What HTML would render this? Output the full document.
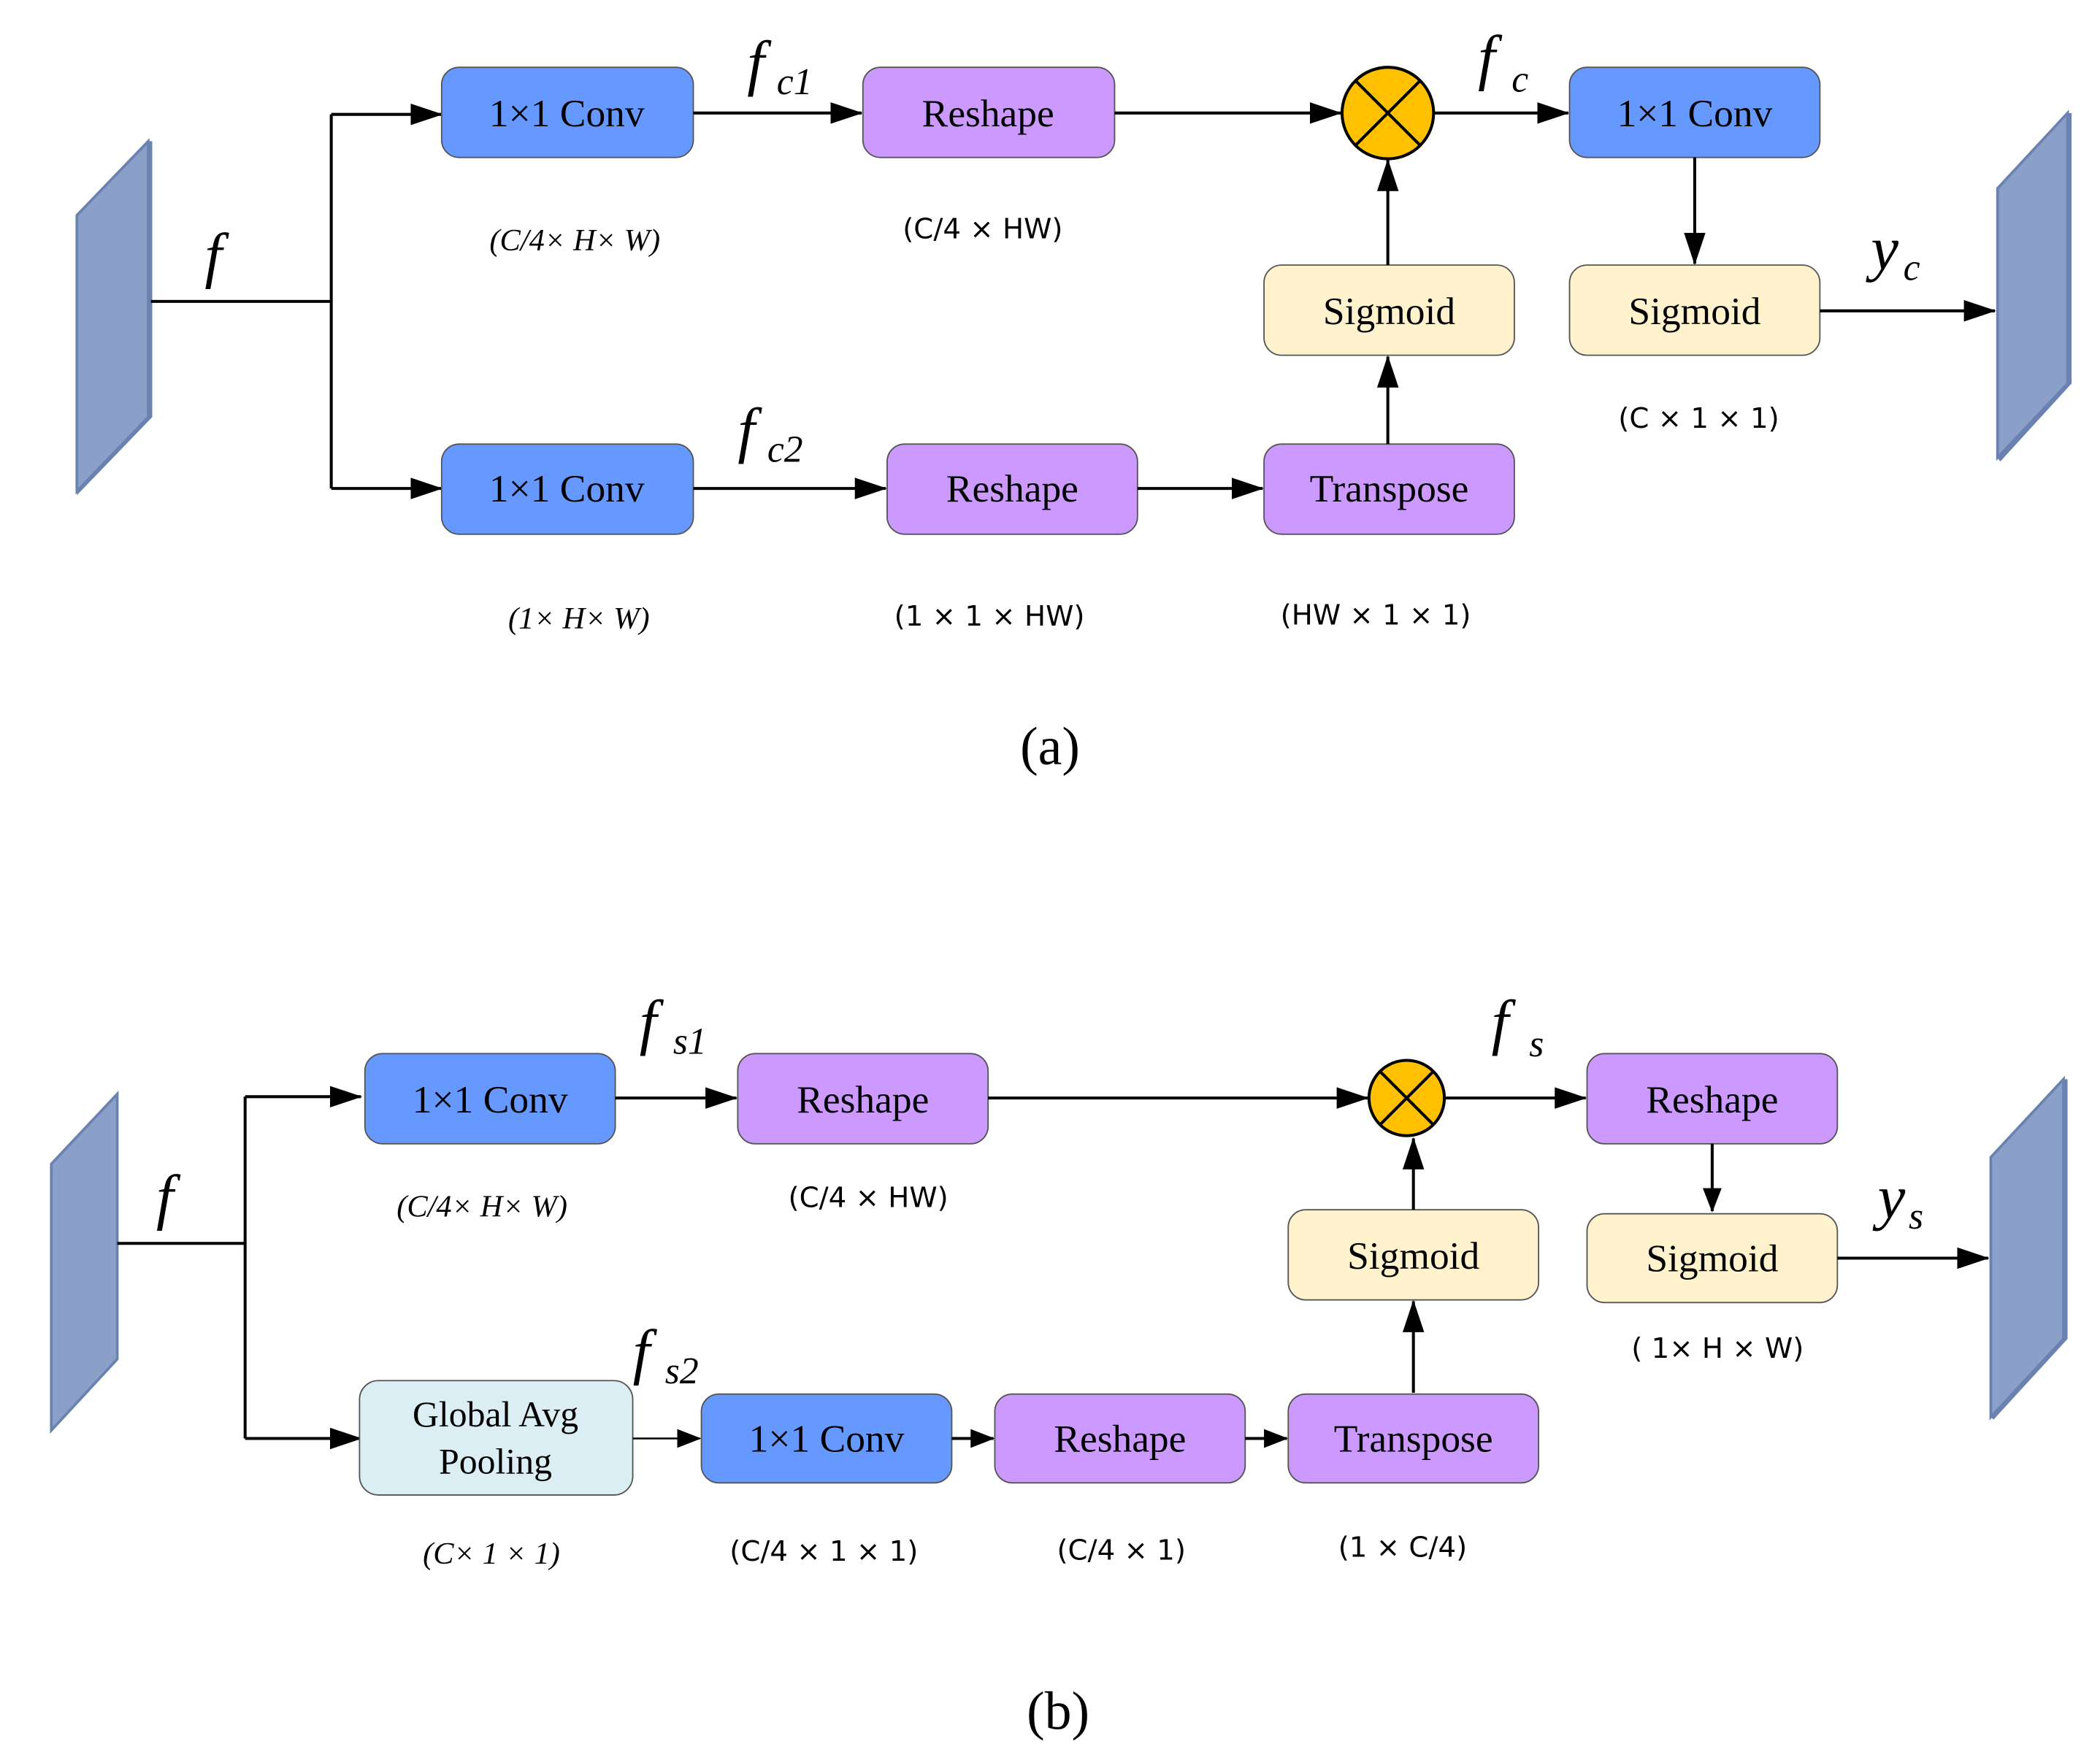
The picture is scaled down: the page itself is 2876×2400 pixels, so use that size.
<!DOCTYPE html>
<html><head><meta charset="utf-8"><style>html,body{margin:0;padding:0;background:#fff}svg{display:block}</style></head>
<body>
<svg width="2876" height="2400" viewBox="0 0 1560 1302" xmlns="http://www.w3.org/2000/svg">
<defs>
<marker id="ar" markerUnits="userSpaceOnUse" markerWidth="24" markerHeight="16" refX="23" refY="8" orient="auto"><path d="M0,0 L24,8 L0,16 Z" fill="#000"/></marker>
<marker id="as" markerUnits="userSpaceOnUse" markerWidth="18" markerHeight="14" refX="17" refY="7" orient="auto"><path d="M0,0 L18,7 L0,14 Z" fill="#000"/></marker>
</defs>
<style>
.bx{stroke:#555;stroke-width:1}
.t{font-family:"Liberation Serif",serif;font-size:29px;text-anchor:middle;dominant-baseline:central}
.d{font-family:"Liberation Serif",serif;font-size:23px;font-style:italic;text-anchor:middle}
.m{font-family:"DejaVu Sans",sans-serif;font-size:21px;text-anchor:middle}
.v{font-family:"Liberation Serif",serif;font-style:italic;font-size:46px}
.s{font-family:"Liberation Serif",serif;font-style:italic;font-size:28px}
.l{stroke:#000;stroke-width:2.2;fill:none}
</style>
<!-- (a) -->
<polygon points="57,365 57,160 110,105 110,310" fill="#8aa0c8" stroke="#6a82b0" stroke-width="2"/>
<polygon points="110,105 113,105 113,310 57,368 57,365 110,310" fill="#6a82b0"/>
<path class="l" d="M112,224 H246 M246,85 V363"/>
<path class="l" d="M246,85 H328" marker-end="url(#ar)"/>
<path class="l" d="M246,363 H328" marker-end="url(#ar)"/>
<text class="v" x="152" y="205">f</text>
<rect class="bx" x="328" y="50" width="187" height="67" rx="13" fill="#6699ff"/><text class="t" x="421" y="84">1×1 Conv</text>
<path class="l" d="M515,84 H640" marker-end="url(#ar)"/>
<text class="v" x="555" y="62">f</text><text class="s" x="577" y="70">c1</text>
<rect class="bx" x="641" y="50" width="187" height="67" rx="13" fill="#cc99ff"/><text class="t" x="734" y="84">Reshape</text>
<path class="l" d="M828,84 H996" marker-end="url(#ar)"/>
<circle cx="1031" cy="84" r="34" fill="#ffc000" stroke="#000" stroke-width="2.2"/>
<path class="l" d="M1007,60 L1055,108 M1055,60 L1007,108"/>
<path class="l" d="M1065,84 H1165" marker-end="url(#ar)"/>
<text class="v" x="1098" y="58">f</text><text class="s" x="1123" y="68">c</text>
<rect class="bx" x="1166" y="50" width="186" height="67" rx="13" fill="#6699ff"/><text class="t" x="1259" y="84">1×1 Conv</text>
<path class="l" d="M1259,117 V196" marker-end="url(#ar)"/>
<rect class="bx" x="1166" y="197" width="186" height="67" rx="13" fill="#fff2cc"/><text class="t" x="1259" y="231">Sigmoid</text>
<path class="l" d="M1352,231 H1482" marker-end="url(#ar)"/>
<text class="v" x="1390" y="200">y</text><text class="s" x="1414" y="208">c</text>
<polygon points="1484,340 1484,140 1536,84 1536,285" fill="#8aa0c8" stroke="#6a82b0" stroke-width="2"/>
<polygon points="1536,84 1539,84 1539,285 1486,343 1484,340 1536,285" fill="#6a82b0"/>
<rect class="bx" x="328" y="330" width="187" height="67" rx="13" fill="#6699ff"/><text class="t" x="421" y="363">1×1 Conv</text>
<path class="l" d="M515,363 H658" marker-end="url(#ar)"/>
<text class="v" x="548" y="335">f</text><text class="s" x="570" y="343">c2</text>
<rect class="bx" x="659" y="330" width="186" height="67" rx="13" fill="#cc99ff"/><text class="t" x="752" y="363">Reshape</text>
<path class="l" d="M845,363 H938" marker-end="url(#ar)"/>
<rect class="bx" x="939" y="330" width="186" height="67" rx="13" fill="#cc99ff"/><text class="t" x="1032" y="363">Transpose</text>
<path class="l" d="M1031,330 V265" marker-end="url(#ar)"/>
<rect class="bx" x="939" y="197" width="186" height="67" rx="13" fill="#fff2cc"/><text class="t" x="1032" y="231">Sigmoid</text>
<path class="l" d="M1031,197 V119" marker-end="url(#ar)"/>
<text class="d" x="427" y="186">(C/4× H× W)</text>
<text class="m" x="730" y="177">(C/4 × HW)</text>
<text class="m" x="1262" y="318">(C × 1 × 1)</text>
<text class="d" x="430" y="467">(1× H× W)</text>
<text class="m" x="735" y="465">(1 × 1 × HW)</text>
<text class="m" x="1022" y="464">(HW × 1 × 1)</text>
<text x="780" y="568" font-family="Liberation Serif,serif" font-size="40" text-anchor="middle">(a)</text>
<!-- (b) -->
<polygon points="38,1063 38,865 87,813 87,1010" fill="#8aa0c8" stroke="#6a82b0" stroke-width="2"/>
<path class="l" d="M87,924 H182 M182,815 V1069"/>
<path class="l" d="M182,815 H268" marker-end="url(#ar)"/>
<path class="l" d="M182,1069 H268" marker-end="url(#ar)"/>
<text class="v" x="116" y="905">f</text>
<rect class="bx" x="271" y="783" width="186" height="67" rx="13" fill="#6699ff"/><text class="t" x="364" y="817">1×1 Conv</text>
<path class="l" d="M457,816 H547" marker-end="url(#ar)"/>
<text class="v" x="475" y="775">f</text><text class="s" x="500" y="783">s1</text>
<rect class="bx" x="548" y="783" width="186" height="67" rx="13" fill="#cc99ff"/><text class="t" x="641" y="817">Reshape</text>
<path class="l" d="M734,816 H1016" marker-end="url(#ar)"/>
<circle cx="1045" cy="816" r="28" fill="#ffc000" stroke="#000" stroke-width="2.2"/>
<path class="l" d="M1025,796 L1065,836 M1065,796 L1025,836"/>
<path class="l" d="M1073,816 H1178" marker-end="url(#ar)"/>
<text class="v" x="1108" y="775">f</text><text class="s" x="1136" y="785">s</text>
<rect class="bx" x="1179" y="783" width="186" height="67" rx="13" fill="#cc99ff"/><text class="t" x="1272" y="817">Reshape</text>
<path class="l" d="M1272,850 V900" marker-end="url(#as)"/>
<rect class="bx" x="1179" y="902" width="186" height="66" rx="13" fill="#fff2cc"/><text class="t" x="1272" y="935">Sigmoid</text>
<path class="l" d="M1365,935 H1477" marker-end="url(#ar)"/>
<text class="v" x="1395" y="905">y</text><text class="s" x="1418" y="913">s</text>
<polygon points="1479,1053 1479,860 1533,802 1533,995" fill="#8aa0c8" stroke="#6a82b0" stroke-width="2"/>
<polygon points="1533,802 1536,802 1536,995 1481,1055 1479,1053 1533,995" fill="#6a82b0"/>
<rect class="bx" x="267" y="1026" width="203" height="85" rx="14" fill="#daeef3"/>
<text class="t" x="368" y="1051" style="font-size:27px">Global Avg</text><text class="t" x="368" y="1086" style="font-size:27px">Pooling</text>
<path d="M470,1069 H520" stroke="#000" stroke-width="1.3" fill="none" marker-end="url(#as)"/>
<text class="v" x="470" y="1020">f</text><text class="s" x="494" y="1028">s2</text>
<rect class="bx" x="521" y="1036" width="186" height="66" rx="13" fill="#6699ff"/><text class="t" x="614" y="1069">1×1 Conv</text>
<path class="l" d="M707,1069 H738" marker-end="url(#as)"/>
<rect class="bx" x="739" y="1036" width="186" height="66" rx="13" fill="#cc99ff"/><text class="t" x="832" y="1069">Reshape</text>
<path class="l" d="M925,1069 H956" marker-end="url(#as)"/>
<rect class="bx" x="957" y="1036" width="186" height="66" rx="13" fill="#cc99ff"/><text class="t" x="1050" y="1069">Transpose</text>
<path class="l" d="M1050,1035 V967" marker-end="url(#ar)"/>
<rect class="bx" x="957" y="899" width="186" height="67" rx="13" fill="#fff2cc"/><text class="t" x="1050" y="933">Sigmoid</text>
<path class="l" d="M1050,899 V846" marker-end="url(#ar)"/>
<text class="d" x="358" y="904">(C/4× H× W)</text>
<text class="m" x="645" y="897">(C/4 × HW)</text>
<text class="m" x="1276" y="1009">( 1× H × W)</text>
<text class="d" x="365" y="1162">(C× 1 × 1)</text>
<text class="m" x="612" y="1160">(C/4 × 1 × 1)</text>
<text class="m" x="833" y="1159">(C/4 × 1)</text>
<text class="m" x="1042" y="1157">(1 × C/4)</text>
<text x="786" y="1285" font-family="Liberation Serif,serif" font-size="40" text-anchor="middle">(b)</text>
</svg>
</body></html>
